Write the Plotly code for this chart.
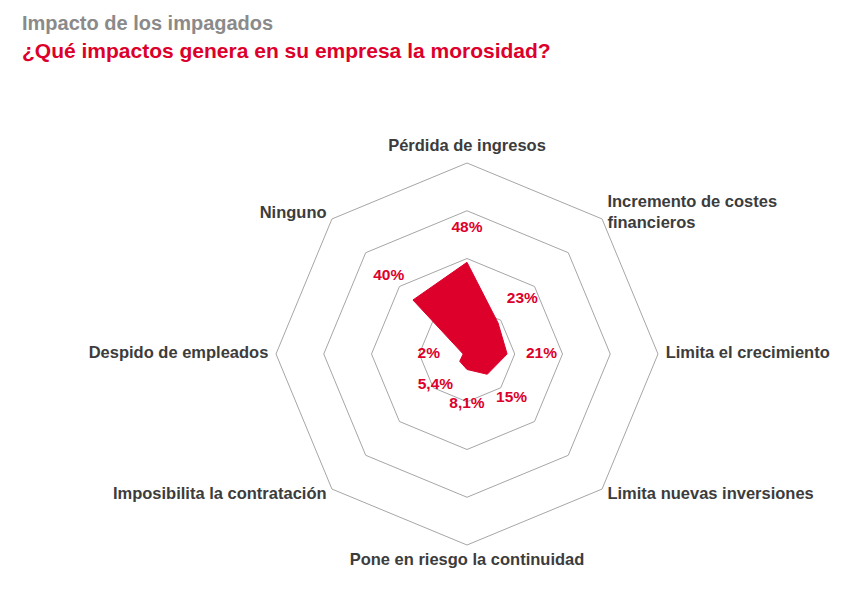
import plotly.graph_objects as go

# datos
categorias = [
    "Pérdida de ingresos",
    "Incremento de costes<br>financieros",
    "Limita el crecimiento",
    "Limita nuevas inversiones",
    "Pone en riesgo la continuidad",
    "Imposibilita la contratación",
    "Despido de empleados",
    "Ninguno",
]
valores = [48, 23, 21, 15, 8.1, 5.4, 2, 40]
anillos = [25, 50, 75, 100]

TITULO = "Impacto de los impagados"
SUBTITULO = "¿Qué impactos genera en su empresa la morosidad?"

RED = "#dc002b"
GRAY_TITLE = "#8a8a8a"
TEXT = "#3c3c3c"
GRID = "#a6a6a6"
FONT = "Liberation Sans, Arial, sans-serif"

# el body de la página tiene 8px de margen: la figura se reduce para caber
W, H = 839, 582
R_MAX = 100
CAT_PAD = 1.04            # los rótulos de categoría quedan algo fuera del octógono
R_AXIS = R_MAX * CAT_PAD  # rango radial (la línea exterior visible es el anillo 100)

# desplazamiento radial de las etiquetas de valor
LABEL_OFFSET = 18
# colocación de cada rótulo de categoría respecto a su vértice
POS_CAT = ["top center", "middle right", "middle right", "middle right",
           "bottom center", "middle left", "middle left", "middle left"]


def fmt(v):
    s = f"{v:g}".replace(".", ",")
    return s + "%"


cerrado_cat = categorias + categorias[:1]
cerrado_val = valores + valores[:1]

fig = go.Figure()
fig.add_trace(go.Scatterpolar(
    r=cerrado_val, theta=cerrado_cat,
    mode="lines", fill="toself",
    fillcolor=RED, line=dict(color=RED, width=1),
    hoverinfo="skip", showlegend=False,
))
fig.add_trace(go.Scatterpolar(
    r=[v + LABEL_OFFSET for v in valores], theta=categorias,
    mode="text", text=[fmt(v) for v in valores],
    textfont=dict(color=RED, size=15.5, family=FONT, weight="bold"),
    hoverinfo="skip", showlegend=False,
))
fig.add_trace(go.Scatterpolar(
    r=[R_AXIS] * len(categorias), theta=categorias,
    mode="text", text=categorias, textposition=POS_CAT,
    textfont=dict(color=TEXT, size=16.5, family=FONT, weight="bold"),
    cliponaxis=False, hoverinfo="skip", showlegend=False,
))

# centro (459, 346) y radio 191 px para el anillo 100, en px de figura
cx, cy, rad = 459, 346, 191 * CAT_PAD
fig.update_layout(
    width=W, height=H,
    margin=dict(l=0, r=0, t=0, b=0),
    paper_bgcolor="white",
    font=dict(family=FONT, color=TEXT),
    polar=dict(
        domain=dict(x=[(cx - rad) / W, (cx + rad) / W],
                    y=[1 - (cy + rad) / H, 1 - (cy - rad) / H]),
        gridshape="linear",
        bgcolor="rgba(0,0,0,0)",
        radialaxis=dict(
            range=[0, R_AXIS], tickvals=anillos, showticklabels=False,
            ticks="", showline=False, gridcolor=GRID, gridwidth=1,
        ),
        angularaxis=dict(
            rotation=90, direction="clockwise",
            showgrid=False, ticks="", showticklabels=False, showline=False,
        ),
    ),
    annotations=[
        dict(text=TITULO, x=12 / W, y=1 - 2 / H, xref="paper", yref="paper",
             xanchor="left", yanchor="top", showarrow=False,
             font=dict(size=20, color=GRAY_TITLE, family=FONT, weight="bold")),
        dict(text=SUBTITULO, x=12 / W, y=1 - 29 / H, xref="paper", yref="paper",
             xanchor="left", yanchor="top", showarrow=False,
             font=dict(size=21, color=RED, family=FONT, weight="bold")),
    ],
)

fig.write_html("out.html")
